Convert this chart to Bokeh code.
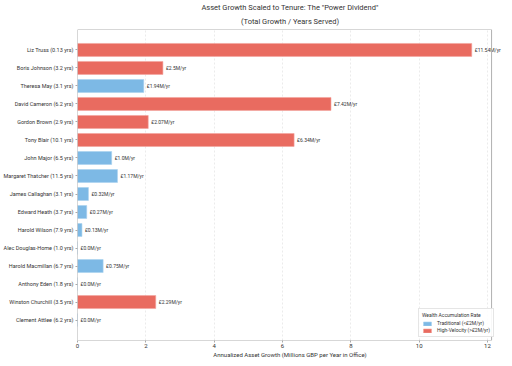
from bokeh.plotting import figure
from bokeh.models import (ColumnDataSource, FactorRange, Range1d, Title, Legend,
                          LegendItem, FixedTicker, LabelSet, BoxAnnotation)
from bokeh.core.properties import value
from bokeh.embed import file_html
from bokeh.resources import INLINE

# ---- data (top to bottom as shown) ----
names = ["Liz Truss", "Boris Johnson", "Theresa May", "David Cameron", "Gordon Brown",
         "Tony Blair", "John Major", "Margaret Thatcher", "James Callaghan", "Edward Heath",
         "Harold Wilson", "Alec Douglas-Home", "Harold Macmillan", "Anthony Eden",
         "Winston Churchill", "Clement Attlee"]
tenure = [0.13, 3.2, 3.1, 6.2, 2.9, 10.1, 6.5, 11.5, 3.1, 3.7, 7.9, 1.0, 6.7, 1.8, 3.5, 6.2]
growth = [11.54, 2.5, 1.94, 7.42, 2.07, 6.34, 1.0, 1.17, 0.32, 0.27, 0.13, 0.0, 0.75, 0.0, 2.29, 0.0]
x_ticks = [0, 2, 4, 6, 8, 10, 12]
x_max = 12.12
threshold = 2.0

BLUE = "#7db9e5"
RED = "#e96b60"
FONT = "Roboto"
TXT = "#333333"

labels = [f"{n} ({t} yrs)" for n, t in zip(names, tenure)]
vlabels = [f"£{round(g, 2)}M/yr" for g in growth]

def subset(cond):
    idx = [i for i, g in enumerate(growth) if cond(g)]
    return ColumnDataSource(dict(y=[labels[i] for i in idx], x=[growth[i] for i in idx]))

src_low = subset(lambda g: g <= threshold)
src_high = subset(lambda g: g > threshold)
src_txt = ColumnDataSource(dict(y=labels, x=growth, t=vlabels))

p = figure(width=502, height=360, output_backend="svg", toolbar_location=None,
           y_range=FactorRange(factors=labels[::-1], range_padding=0.635,
                               range_padding_units="absolute"),
           x_range=Range1d(0, 12.44),
           min_border_left=72, min_border_right=0, min_border_top=0, min_border_bottom=0)

p.title.text = 'Asset Growth Scaled to Tenure: The "Power Dividend"'
p.title.align = "center"
p.title.text_font = FONT
p.title.text_font_size = "7.5px"
p.title.text_font_style = "normal"
p.title.text_color = TXT
p.title.standoff = 0
p.add_layout(Title(text="(Total Growth / Years Served)", align="center",
                   text_font=FONT, text_font_size="7.5px", text_font_style="normal",
                   text_color=TXT, standoff=7), "above")

r_low = p.hbar(y="y", right="x", left=0, height=0.72, source=src_low,
               fill_color=BLUE, line_color="#a9d2ef", line_width=0.6)
r_high = p.hbar(y="y", right="x", left=0, height=0.72, source=src_high,
                fill_color=RED, line_color="#f3a59d", line_width=0.6)

p.add_layout(LabelSet(x="x", y="y", text="t", source=src_txt, x_offset=3.0,
                      text_font=value(FONT), text_font_size=value("5px"), text_color=TXT,
                      text_baseline="middle", text_align="left"))

# visible plot box ends at x_max (frame itself is a little wider for the top label)
p.add_layout(BoxAnnotation(left=0, right=x_max, fill_alpha=0, fill_color=None,
                           line_color="#b0b0b0", line_width=1, line_alpha=1))

# axes
p.xaxis.ticker = FixedTicker(ticks=x_ticks)
p.xaxis.axis_label = "Annualized Asset Growth (Millions GBP per Year in Office)"
for ax in (p.xaxis, p.yaxis):
    ax.axis_label_text_font = FONT
    ax.axis_label_text_font_size = "6px"
    ax.axis_label_text_font_style = "normal"
    ax.axis_label_text_color = TXT
    ax.major_label_text_font = FONT
    ax.major_label_text_font_size = "5.5px"
    ax.major_label_text_color = TXT
    ax.axis_line_color = None
    ax.major_tick_line_color = "#aaaaaa"
    ax.major_tick_out = 2
    ax.major_tick_in = 0
    ax.minor_tick_line_color = None
    ax.major_label_standoff = 2
p.xaxis.axis_label_standoff = 0
p.xaxis.major_label_standoff = 1
p.xaxis.major_label_text_font_size = "6px"

p.ygrid.grid_line_color = None
p.xgrid.grid_line_color = "#dddddd"
p.xgrid.grid_line_dash = "2 2"
p.xgrid.grid_line_width = 0.6
p.outline_line_color = None
p.background_fill_color = "white"

legend = Legend(items=[LegendItem(label="Traditional (<£2M/yr)", renderers=[r_low]),
                       LegendItem(label="High-Velocity (>£2M/yr)", renderers=[r_high])],
                location=(341, 3), title="Wealth Accumulation Rate",
                title_text_font=FONT, title_text_font_size="5px", title_text_font_style="normal",
                title_text_color=TXT, label_text_font=FONT, label_text_font_size="5px",
                label_text_color=TXT, glyph_width=10, glyph_height=5, label_height=5,
                label_standoff=5, spacing=1, padding=3, margin=0, title_standoff=2,
                border_line_color="#cccccc", background_fill_alpha=0.9)
p.add_layout(legend)

open("out.html", "w").write(file_html(p, INLINE))
